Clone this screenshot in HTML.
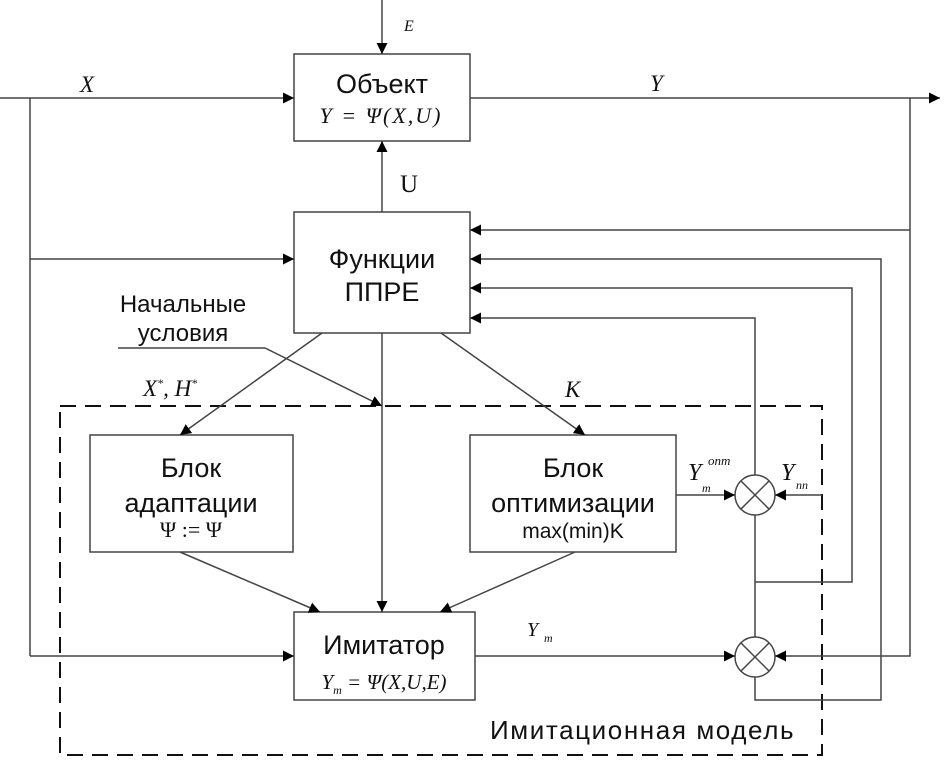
<!DOCTYPE html>
<html><head><meta charset="utf-8"><style>
html,body{margin:0;padding:0;background:#fff;}
svg{display:block;}
.s{font-family:"Liberation Sans",sans-serif;}
.i{font-family:"Liberation Serif",serif;font-style:italic;}
</style></head><body>
<svg width="944" height="761" viewBox="0 0 944 761" xmlns="http://www.w3.org/2000/svg">
<defs>
<marker id="a" viewBox="0 0 10 10" refX="10" refY="5" markerWidth="11" markerHeight="11" markerUnits="userSpaceOnUse" orient="auto"><path d="M0,0L10,5L0,10z" fill="#000"/></marker>
</defs>
<g stroke="#444" stroke-width="1.5" fill="none">
<rect x="294" y="54" width="176" height="87"/>
<rect x="294" y="212" width="176" height="121"/>
<rect x="90" y="435" width="203" height="117"/>
<rect x="470" y="435" width="206" height="117"/>
<rect x="294" y="612" width="181" height="88"/>
<rect x="60" y="406" width="762" height="349" stroke="#111" stroke-width="2" stroke-dasharray="16,9"/>
<line x1="382" y1="0" x2="382" y2="54" marker-end="url(#a)"/>
<line x1="0" y1="98" x2="294" y2="98" marker-end="url(#a)"/>
<line x1="30" y1="98" x2="30" y2="656"/>
<line x1="30" y1="259" x2="294" y2="259" marker-end="url(#a)"/>
<line x1="30" y1="656" x2="294" y2="656" marker-end="url(#a)"/>
<line x1="470" y1="98" x2="940" y2="98" marker-end="url(#a)"/>
<polyline points="910,98 910,656 775,656" marker-end="url(#a)"/>
<line x1="910" y1="230" x2="470" y2="230" marker-end="url(#a)"/>
<line x1="382" y1="212" x2="382" y2="141" marker-end="url(#a)"/>
<polyline points="755,677 755,700 881,700 881,259 470,259" marker-end="url(#a)"/>
<polyline points="755,582 852,582 852,288 470,288" marker-end="url(#a)"/>
<polyline points="755,475 755,318 470,318" marker-end="url(#a)"/>
<line x1="755" y1="515" x2="755" y2="637"/>
<circle cx="755" cy="495" r="20"/>
<line x1="741" y1="481" x2="769" y2="509"/><line x1="769" y1="481" x2="741" y2="509"/>
<circle cx="755" cy="657" r="20"/>
<line x1="741" y1="643" x2="769" y2="671"/><line x1="769" y1="643" x2="741" y2="671"/>
<line x1="676" y1="495" x2="735" y2="495" marker-end="url(#a)"/>
<line x1="822" y1="495" x2="775" y2="495" marker-end="url(#a)"/>
<line x1="475" y1="656" x2="735" y2="656" marker-end="url(#a)"/>
<line x1="322" y1="333" x2="180" y2="435" marker-end="url(#a)"/>
<line x1="441" y1="333" x2="585" y2="435" marker-end="url(#a)"/>
<line x1="382" y1="333" x2="382" y2="612" marker-end="url(#a)"/>
<polyline points="118,348 265,348 382,406" marker-end="url(#a)"/>
<line x1="180" y1="552" x2="320" y2="612" marker-end="url(#a)"/>
<line x1="575" y1="552" x2="440" y2="612" marker-end="url(#a)"/>
</g>
<g fill="#111">
<text class="i" x="404" y="31" font-size="16">E</text>
<text class="i" x="80" y="92" font-size="23">X</text>
<text class="i" x="650" y="91" font-size="23">Y</text>
<text class="s" x="382" y="93" font-size="27" text-anchor="middle">Объект</text>
<text class="i" x="381" y="123" font-size="22" text-anchor="middle" letter-spacing="2">Y = Ψ(X,U)</text>
<text x="400" y="192" font-size="25" font-family="Liberation Serif,serif">U</text>
<text class="s" x="382" y="268" font-size="27" text-anchor="middle">Функции</text>
<text class="s" x="382" y="301" font-size="27" text-anchor="middle">ППРЕ</text>
<text class="s" x="183" y="312" font-size="24" text-anchor="middle">Начальные</text>
<text class="s" x="183" y="341" font-size="24" text-anchor="middle">условия</text>
<text class="i" x="143" y="396" font-size="23">X<tspan font-size="12" dy="-9">*</tspan><tspan dy="9">, H</tspan><tspan font-size="12" dy="-9">*</tspan></text>
<text class="i" x="565" y="397" font-size="23">K</text>
<text class="s" x="191" y="477" font-size="27" text-anchor="middle">Блок</text>
<text class="s" x="191" y="512" font-size="27" text-anchor="middle">адаптации</text>
<text x="191" y="537" font-size="22" font-family="Liberation Serif,serif" text-anchor="middle">Ψ := Ψ</text>
<text class="s" x="573" y="477" font-size="27" text-anchor="middle">Блок</text>
<text class="s" x="573" y="512" font-size="27" text-anchor="middle">оптимизации</text>
<text class="s" x="573" y="538" font-size="21" text-anchor="middle">max(min)K</text>
<text class="i" x="688" y="480" font-size="24">Y</text>
<text class="i" x="702" y="492" font-size="12">m</text>
<text class="i" x="708" y="465" font-size="13">опт</text>
<text class="i" x="781" y="480" font-size="24">Y</text>
<text class="i" x="796" y="489" font-size="12">пп</text>
<text class="i" x="527" y="636" font-size="20">Y</text>
<text class="i" x="544" y="642" font-size="12">m</text>
<text class="s" x="384" y="654" font-size="27" text-anchor="middle">Имитатор</text>
<text class="i" x="384" y="689" font-size="21" text-anchor="middle">Y<tspan font-size="12" dy="5">m</tspan><tspan dy="-5"> = Ψ(X,U,E)</tspan></text>
<text class="s" x="490" y="739" font-size="26" letter-spacing="1.6">Имитационная модель</text>
</g>
</svg>
</body></html>
